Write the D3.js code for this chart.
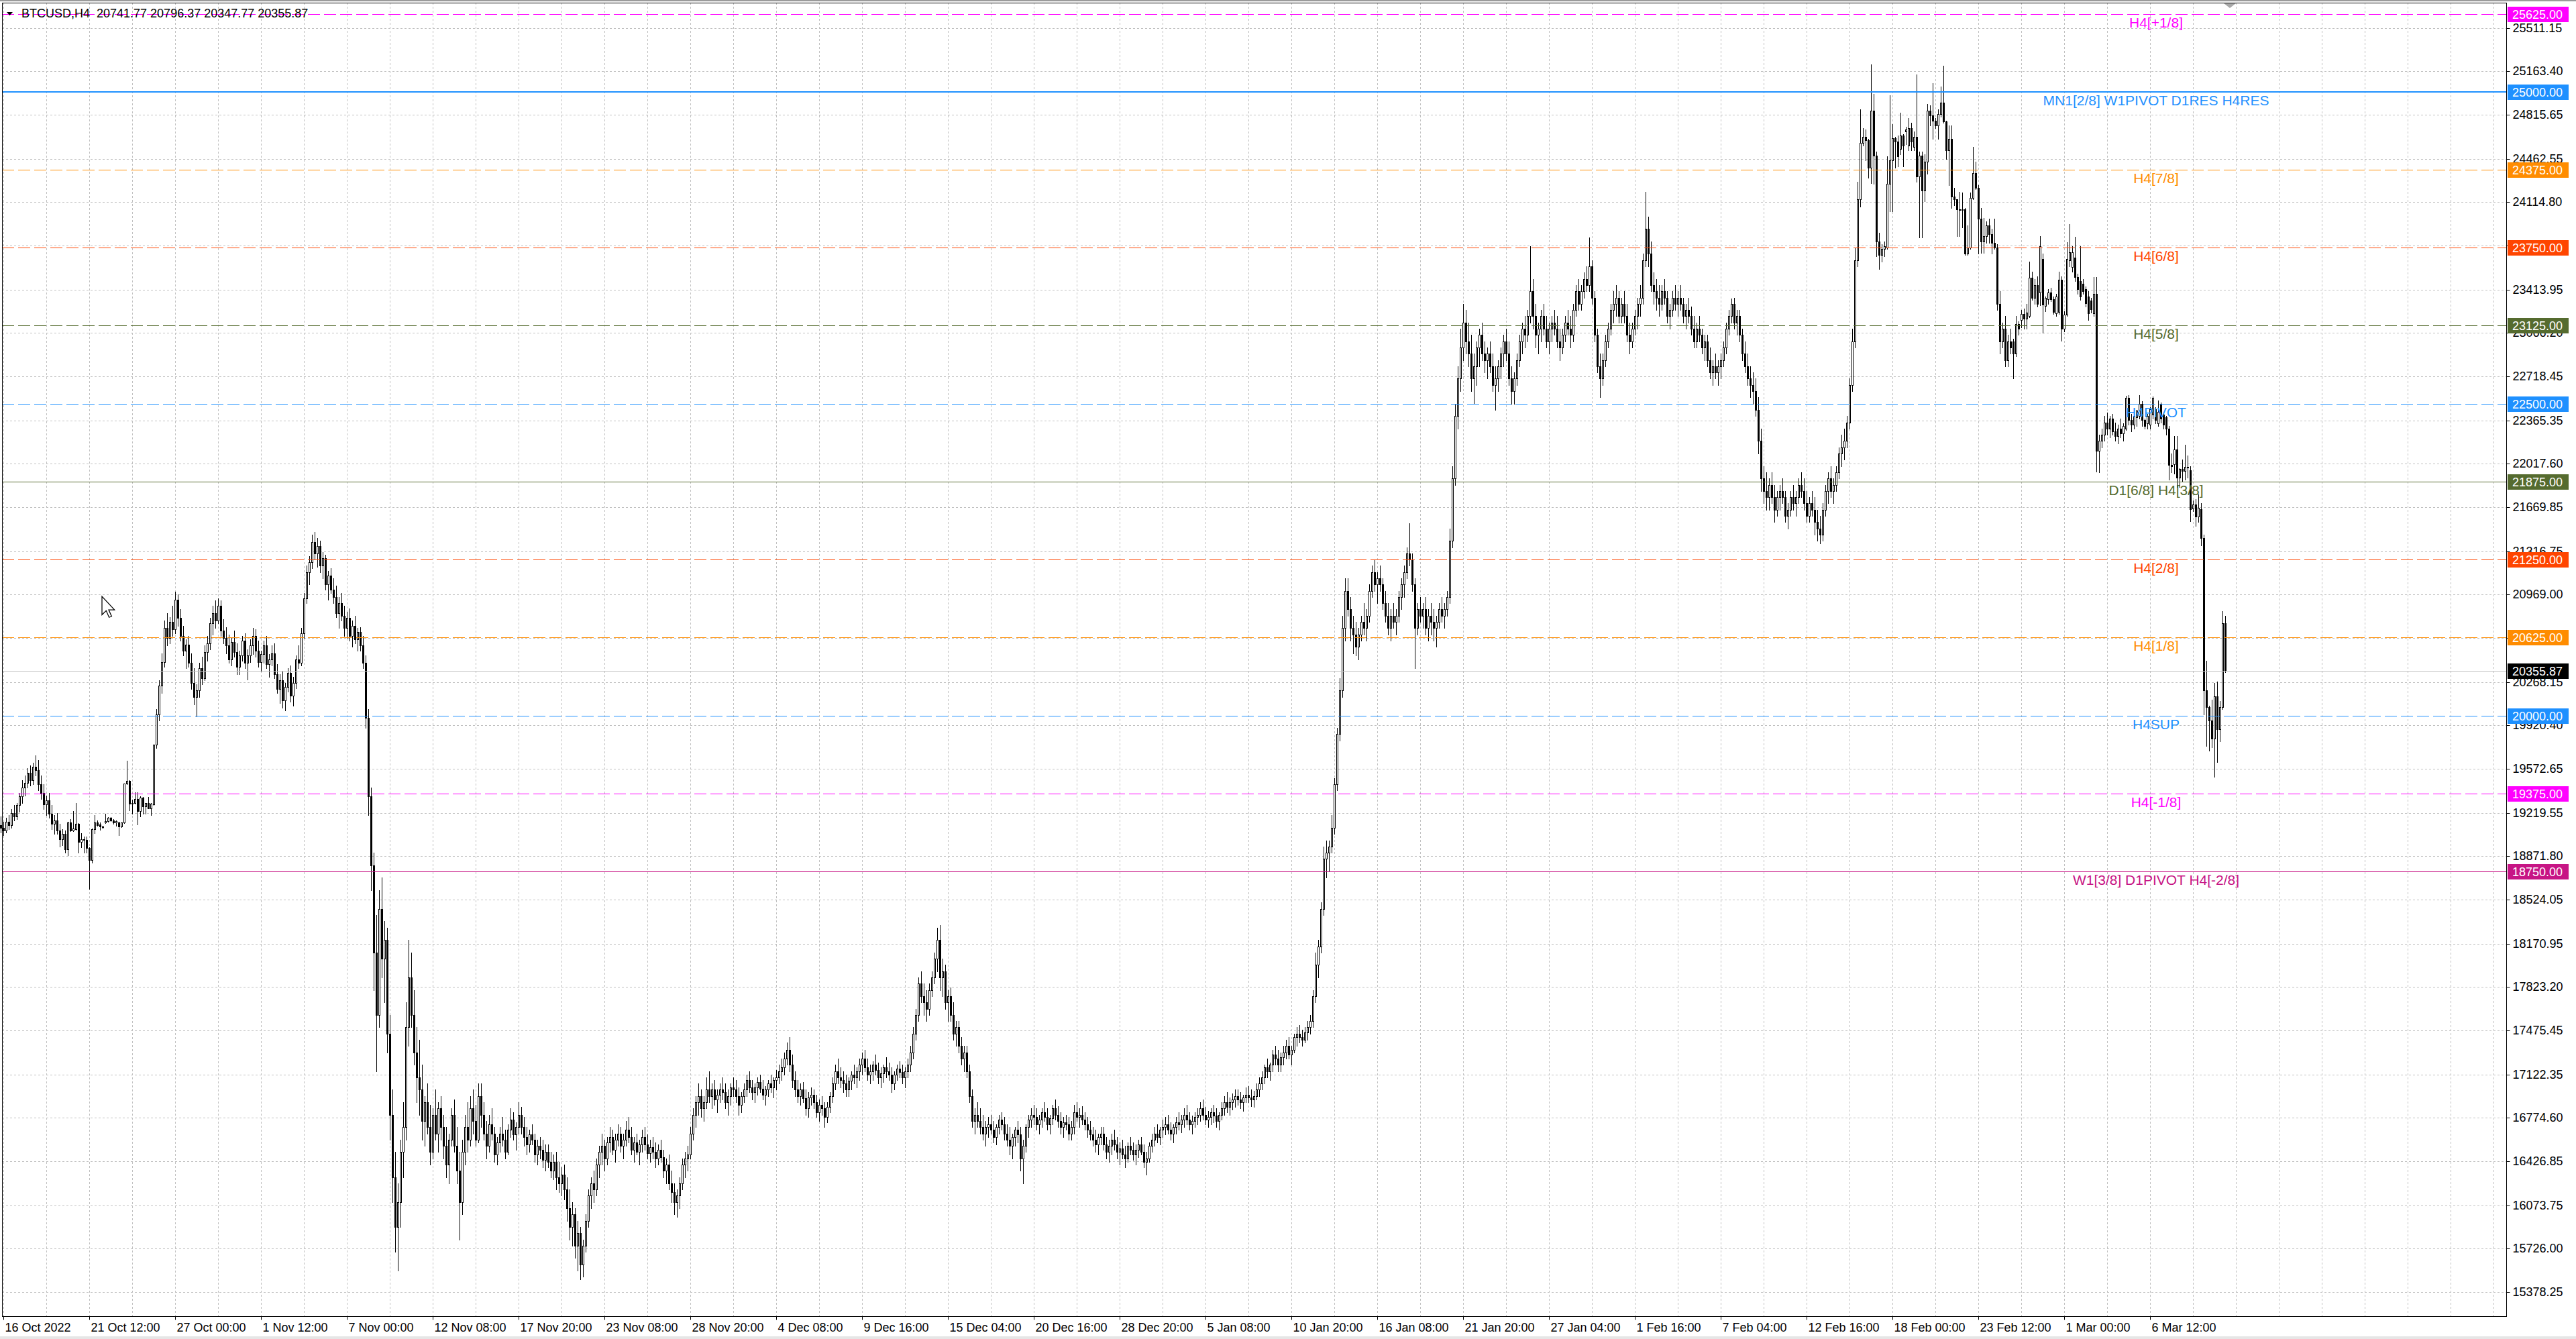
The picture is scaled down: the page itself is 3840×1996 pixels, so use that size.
<!DOCTYPE html>
<html><head><meta charset="utf-8">
<script src="https://cdn.jsdelivr.net/npm/d3@7"></script>
<style>html,body{margin:0;padding:0;background:#fff;overflow:hidden}svg{display:block}</style>
</head><body>
<svg id="chart" width="3840" height="1996"></svg>
<script>
// ===== DATA =====
const symbolTitle = "BTCUSD,H4";
// H4 candles [open, high, low, close]
const barsOct = [
[19120,19190,19060,19100],[19100,19150,19040,19080],[19080,19180,19060,19150],[19150,19200,19090,19120],[19120,19250,19100,19220],
[19220,19280,19160,19190],[19190,19300,19170,19280],[19280,19380,19230,19350],[19350,19480,19300,19420],[19420,19520,19360,19460],
[19460,19580,19420,19540],[19540,19600,19440,19480],[19480,19620,19450,19590],[19590,19680,19520,19560],[19560,19640,19400,19450],
[19450,19520,19330,19380],[19380,19450,19250,19290],[19290,19360,19200,19320],[19320,19380,19180,19210],[19210,19280,19090,19130],
[19130,19200,19050,19160],[19160,19220,19050,19080],[19080,19130,18950,19010],[19010,19090,18960,19050],[19050,19080,18900,18930],
[18925,19150,18880,19140],[19140,19167,19070,19077],[19077,19233,19072,19095],[19090,19297,19085,19131],[19131,19135,18898,18984],
[18984,19054,18943,19009],[19009,19027,18898,19005],[19005,19032,18898,18937],[18937,18945,18611,18844],[18844,19095,18822,19090],
[19090,19202,19054,19140],[19143,19158,19113,19122],[19125,19140,19082,19108],[19109,19116,19095,19104],[19140,19211,19138,19152],
[19152,19185,19150,19179],[19181,19188,19155,19158],[19161,19172,19130,19140],[19143,19158,19113,19152],[19143,19150,19038,19108],
[19109,19143,19106,19143],[19143,19453,19138,19453],[19453,19638,19450,19477],[19477,19480,19238,19292],[19292,19328,19215,19301],
[19297,19382,19292,19333],[19333,19382,19125,19233],[19233,19351,19190,19340],[19340,19345,19215,19271],[19271,19301,19215,19297],
[19297,19346,19256,19256],[19256,19301,19199,19292],[19289,19767,19283,19767],
[19767,20050,19740,20010],[20010,20280,19960,20240],[20240,20500,20180,20430],[20430,20760,20390,20700],[20700,20820,20560,20620],
[20620,20790,20580,20750],[20750,20880,20640,20690],[20690,20990,20660,20930],[20930,20970,20720,20780],[20780,20850,20600,20640],
[20640,20720,20480,20520],[20520,20610,20380,20570],[20570,20640,20390,20420],[20420,20500,20210,20260],[20260,20380,20090,20150],
[20150,20250,19990,20200],[20200,20420,20150,20380],[20380,20470,20250,20300],[20300,20560,20280,20510],[20510,20640,20440,20580],
[20580,20780,20530,20740],[20740,20880,20650,20820],[20820,20920,20700,20760],[20760,20940,20740,20880],[20880,20920,20640,20680],
[20680,20770,20580,20620],[20620,20710,20500,20560],[20560,20650,20420,20450],[20450,20620,20400,20590],[20590,20680,20470,20510],
[20510,20580,20330,20390],[20390,20520,20330,20480],[20480,20640,20440,20600],[20600,20660,20380,20420],[20420,20530,20290,20480],
[20480,20610,20430,20560]
];
const barsNov = [
[20560,20700,20490,20640],[20640,20690,20470,20520],[20520,20600,20390,20430],[20430,20520,20350,20490],[20490,20600,20420,20560],
[20560,20640,20380,20410],[20410,20490,20310,20450],[20450,20560,20400,20500],[20500,20580,20300,20330],[20330,20410,20180,20210],
[20210,20330,20100,20280],[20280,20350,20060,20120],[20120,20260,20040,20230],[20230,20380,20190,20340],[20340,20400,20110,20160],
[20160,20310,20080,20260],[20260,20480,20220,20450],[20450,20560,20380,20420],[20420,20700,20400,20660],[20660,20980,20620,20940],
[20940,21200,20900,21150],[21150,21280,21050,21230],[21230,21450,21180,21390],[21390,21470,21250,21300],[21300,21420,21190,21360],
[21360,21400,21150,21200],[21200,21310,21100,21260],[21260,21290,21010,21050],[21050,21160,20930,21120],[21120,21180,20980,21010],
[21010,21100,20900,20950],[20950,21040,20790,20820],[20820,20950,20700,20900],[20900,20980,20760,20800],[20800,20880,20640,20700],
[20700,20830,20620,20780],[20780,20860,20600,20640],[20640,20760,20550,20720],[20720,20800,20580,20610],[20610,20700,20520,20670],
[20670,20710,20520,20560],[20560,20640,20380,20420],[20420,20480,19900,19980],[19980,20050,19200,19350],[19350,19420,18600,18800],
[18800,18900,17800,18100],[18100,18400,17150,17600],[17600,18600,17500,18450],[18450,18700,17900,18050],[18050,18350,17700,18200],
[18200,18300,17300,17450],[17450,17600,16600,16800],[16800,17000,16100,16300],[16300,16500,15700,15900],[15900,16250,15550,16100],
[16100,16600,15900,16500],[16500,16900,16300,16700],[16700,17700,16600,17500],[17500,18200,17350,17900],[17900,18100,17500,17600],
[17600,17800,17200,17300],[17300,17500,16900,17100],[17100,17400,16800,17000],[17000,17200,16600,16750],[16750,16950,16550,16900],
[16900,17050,16650,16700],[16700,16880,16400,16500],[16500,16850,16450,16800],[16800,17000,16600,16650],[16650,16900,16500,16850],
[16850,16950,16600,16700],[16700,16800,16450,16550],[16550,16700,16300,16400],[16400,16650,16250,16600],[16600,16850,16550,16800],
[16800,16920,16500,16550],[16550,16700,16250,16350],[16350,16500,15800,16100],[16100,16600,16000,16500],[16500,16800,16400,16700],
[16700,16900,16500,16600],[16600,16950,16550,16850],[16850,17000,16650,16750],[16750,16880,16550,16600],[16600,17050,16580,16950],
[16950,17050,16700,16800],
[16800,16900,16600,16650],[16650,16750,16450,16550],[16550,16800,16500,16720],[16720,16850,16600,16650],[16650,16700,16420,16480],
[16480,16620,16400,16580],[16580,16700,16500,16650],[16650,16780,16550,16600],[16600,16680,16450,16500],[16500,16720,16480,16680],
[16680,16850,16620,16760],[16760,16820,16600,16640],[16640,16740,16520,16700],[16700,16900,16650,16800],[16800,16860,16650,16700],
[16700,16780,16550,16620],[16620,16700,16480,16560],[16560,16680,16500,16640],[16640,16720,16560,16600],[16600,16650,16420,16480],
[16480,16600,16400,16550],[16550,16620,16450,16520],[16520,16600,16380,16440],[16440,16560,16350,16500],[16500,16560,16380,16420],
[16420,16500,16300,16350],[16350,16480,16280,16420],[16420,16500,16200,16300],[16300,16420,16180,16250],[16250,16380,16150,16320],
[16320,16400,16120,16200],
[16200,16300,15950,16050],[16050,16200,15800,15900],[15900,16100,15750,16000],[16000,16050,15650,15750],[15750,15950,15550,15850],
[15850,15900,15480,15600],[15600,15800,15500,15750],[15750,16000,15700,15950],[15950,16200,15900,16150],[16150,16300,16050,16250],
[16250,16350,16100,16200],[16200,16450,16150,16400],[16400,16550,16300,16500],[16500,16650,16400,16550],[16550,16600,16350,16450],
[16450,16620,16400,16580],[16580,16700,16500,16620],[16620,16680,16480,16520],[16520,16650,16420,16600],[16600,16720,16550,16650],
[16650,16700,16500,16550],[16550,16650,16450,16600],[16600,16750,16550,16680],[16680,16780,16580,16620],[16620,16700,16480,16520],
[16520,16620,16420,16580],[16580,16650,16480,16500],[16500,16600,16400,16560],[16560,16680,16500,16620],[16620,16700,16520,16560],
[16560,16640,16450,16490],[16490,16600,16420,16540],[16540,16620,16450,16500],[16500,16580,16380,16450],[16450,16560,16400,16520],
[16520,16600,16420,16460],[16460,16520,16300,16350],[16350,16450,16250,16400],[16400,16480,16200,16250],[16250,16350,16100,16180],
[16180,16250,16000,16100],[16100,16200,15980,16150],[16150,16300,16050,16250],[16250,16450,16200,16400],[16400,16500,16300,16450],
[16450,16550,16350,16480],
[16480,16700,16450,16650],[16650,16850,16600,16800],[16800,16950,16700,16900],[16900,17050,16800,16950],[16950,17000,16780,16850],
[16850,16950,16750,16900],[16900,17100,16850,17000],[17000,17150,16900,16950],[16950,17050,16850,17000],[17000,17080,16880,16920],
[16920,17000,16820,16960],[16960,17050,16900,17000],[17000,17100,16920,16980]
];
const barsDec = [
[16980,17050,16850,16900],[16900,17000,16800,16950],[16950,17050,16880,17020],[17020,17100,16950,17000],[17000,17080,16900,16950],
[16950,17020,16800,16880],[16880,16980,16820,16950],[16950,17050,16900,17000],[17000,17120,16950,17080],[17080,17150,16980,17020],
[17020,17080,16920,16980],[16980,17050,16900,17020],[17020,17100,16960,17060],[17060,17120,16980,17010],[17010,17080,16920,16960],
[16960,17030,16880,17000],[17000,17080,16950,17050],[17050,17120,16980,17020],[17020,17100,16940,17080],[17080,17160,17000,17100],
[17100,17200,17050,17150],[17150,17250,17080,17180],[17180,17300,17120,17250],[17250,17380,17200,17320],[17320,17420,17150,17200],
[17200,17280,17020,17080],[17080,17150,16950,17000],[17000,17080,16900,16950],[16950,17050,16880,17000],[17000,17060,16900,16930],
[16930,17000,16800,16850],[16850,16980,16780,16940],[16940,17020,16880,16960],[16960,17000,16850,16900],[16900,16960,16780,16820],
[16820,16920,16750,16880],[16880,16950,16800,16850],[16850,16900,16700,16780],[16780,16900,16740,16860],[16860,16980,16820,16950],
[16950,17100,16900,17050],[17050,17200,17000,17150],[17150,17250,17050,17100],[17100,17180,17020,17080],[17080,17150,16980,17050],
[17050,17120,16950,17000],[17000,17100,16950,17070],[17070,17150,17000,17120],[17120,17200,17050,17100],
[17100,17180,17020,17150],[17150,17250,17080,17200],[17200,17300,17120,17250],[17250,17320,17150,17180],[17180,17250,17080,17120],
[17120,17200,17050,17150],[17150,17230,17080,17200],[17200,17280,17120,17160],[17160,17220,17050,17100],[17100,17180,17020,17130],
[17130,17200,17060,17180],[17180,17260,17100,17150],[17150,17220,17080,17120],[17120,17180,16980,17050],[17050,17150,17000,17120],
[17120,17200,17080,17170],[17170,17230,17100,17140],[17140,17200,17050,17100],[17100,17180,17020,17150],[17150,17250,17100,17200],
[17200,17350,17150,17300],[17300,17500,17250,17450],[17450,17650,17400,17600],[17600,17900,17550,17850],[17850,17950,17700,17750],
[17750,17850,17600,17700],[17700,17800,17550,17650],[17650,17850,17600,17800],[17800,17950,17750,17900],[17900,18100,17850,18050],
[18050,18300,17950,18200],[18200,18320,17800,17900],[17900,18050,17750,17950],[17950,18000,17650,17700],[17700,17800,17550,17750],
[17750,17820,17550,17600],[17600,17700,17400,17450],[17450,17550,17350,17500],[17500,17550,17300,17350],[17350,17420,17200,17250],
[17250,17350,17150,17300],[17300,17350,17100,17150],[17150,17200,16900,16950],[16950,17000,16700,16750],[16750,16850,16650,16800],
[16800,16900,16700,16750],
[16750,16850,16650,16700],[16700,16800,16600,16650],[16650,16750,16550,16700],[16700,16780,16620,16720],[16720,16800,16650,16680],
[16680,16750,16580,16620],[16620,16720,16560,16700],[16700,16800,16650,16760],[16760,16820,16680,16720],[16720,16780,16600,16650],
[16650,16720,16550,16600],[16600,16700,16480,16550],[16550,16650,16450,16620],[16620,16700,16550,16680],[16680,16750,16580,16640],
[16640,16700,16350,16450],[16450,16600,16250,16550],[16550,16720,16500,16700],[16700,16800,16620,16760],[16760,16850,16700,16800],
[16800,16880,16720,16780],[16780,16850,16680,16720],[16720,16800,16650,16760],[16760,16850,16700,16820],[16820,16900,16750,16780],
[16780,16850,16680,16720],[16720,16800,16650,16770],[16770,16880,16720,16850],[16850,16920,16760,16800],[16800,16870,16700,16750],
[16750,16820,16650,16700],[16700,16780,16620,16740],[16740,16800,16680,16720],[16720,16780,16600,16650],[16650,16750,16600,16700],
[16700,16880,16650,16820],[16820,16900,16750,16780],[16780,16850,16700,16800],[16800,16870,16720,16760],[16760,16820,16680,16720],
[16720,16780,16620,16680],[16680,16750,16600,16640],[16640,16700,16550,16600],[16600,16680,16500,16560],[16560,16650,16480,16620],
[16620,16700,16560,16650],
[16650,16700,16520,16560],[16560,16620,16450,16500],[16500,16600,16420,16550],[16550,16650,16480,16600],[16600,16680,16520,16560],
[16560,16620,16450,16500],[16500,16580,16400,16530],[16530,16600,16450,16480],[16480,16550,16380,16450],[16450,16580,16420,16550],
[16550,16620,16480,16520],[16520,16580,16440,16480],[16480,16560,16400,16520],[16520,16600,16460,16560],[16560,16620,16480,16500],
[16500,16560,16380,16420],[16420,16500,16320,16450],[16450,16580,16420,16550]
];
const barsJan = [
[16550,16650,16500,16600],[16600,16700,16550,16650],[16650,16720,16580,16620],[16620,16700,16560,16680],[16680,16760,16620,16700],
[16700,16780,16640,16720],[16720,16800,16650,16680],[16680,16740,16600,16650],[16650,16720,16580,16700],[16700,16780,16650,16740],
[16740,16820,16680,16720],[16720,16800,16660,16760],[16760,16850,16700,16800],[16800,16880,16720,16760],[16760,16820,16680,16720],
[16720,16790,16650,16750],[16750,16820,16700,16780],[16780,16850,16720,16800],[16800,16900,16750,16850],[16850,16920,16760,16800],
[16800,16860,16720,16760],[16760,16830,16700,16780],[16780,16850,16720,16820],[16820,16880,16740,16790],[16790,16850,16700,16750],
[16750,16820,16680,16800],[16800,16900,16760,16850],[16850,16950,16800,16900],[16900,16980,16820,16860],[16860,16940,16800,16900],
[16900,16970,16840,16920],[16920,17000,16860,16950],[16950,17000,16880,16920],[16920,16980,16850,16900],[16900,16960,16830,16940],
[16940,17020,16900,16960],[16960,17030,16900,16940],[16940,17000,16870,16920],[16920,16990,16860,16950],[16950,17050,16920,17000],
[17000,17100,16950,17050],[17050,17150,17000,17100],
[17100,17200,17050,17180],[17180,17250,17100,17150],[17150,17220,17080,17200],[17200,17320,17150,17280],[17280,17350,17200,17250],
[17250,17320,17150,17200],[17200,17300,17150,17260],[17260,17350,17200,17300],[17300,17400,17250,17350],[17350,17420,17250,17280],
[17280,17350,17200,17320],[17320,17450,17300,17420],[17420,17500,17350,17450],[17450,17520,17380,17420],[17420,17480,17350,17400],
[17400,17500,17380,17460],[17460,17550,17400,17500],[17500,17600,17450,17550],
[17550,17800,17500,17750],[17750,18100,17700,18000],[18000,18200,17900,18150],[18150,18500,18100,18450],[18450,18950,18400,18850],
[18850,19000,18700,18900],[18900,19000,18750,18950],[18950,19200,18900,19100],[19100,19500,19050,19450],[19450,19900,19400,19850],
[19850,20300,19800,20200],[20200,20800,20150,20700],[20700,21100,20600,21000],
[21000,21100,20800,20850],[20850,20950,20600,20700],[20700,20800,20500,20650],[20650,20750,20480,20550],[20550,20700,20450,20650],
[20650,20800,20600,20750],[20750,20900,20650,20700],[20700,20850,20600,20800],[20800,21050,20750,21000],[21000,21200,20950,21150],
[21150,21250,21000,21050],[21050,21150,20900,21100],[21100,21200,21000,21050],[21050,21100,20850,20900],[20900,21000,20750,20800],
[20800,20900,20650,20700],[20700,20850,20600,20800],[20800,20900,20700,20750],[20750,20850,20650,20800],[20800,21000,20750,20950],
[20950,21100,20850,21050],[21050,21200,20950,21150],[21150,21350,21100,21300],[21300,21540,21200,21250],[21250,21300,21000,21050],
[21050,21100,20380,20700],[20700,20900,20650,20850],[20850,20950,20750,20800],[20800,20900,20700,20850],[20850,20950,20650,20700],
[20700,20850,20600,20800],[20800,20900,20650,20750],[20750,20850,20600,20700],[20700,20800,20550,20750],[20750,20900,20700,20850],
[20850,20950,20750,20800],[20800,20900,20700,20850],[20850,21000,20800,20950],
[20950,21500,20900,21400],[21400,22000,21350,21900],[21900,22500,21850,22400],[22400,22800,22300,22700],[22700,23100,22600,22950],
[22950,23300,22850,23150],[23150,23250,22900,23000],[23000,23150,22800,22900],[22900,23050,22600,22700],[22700,22900,22500,22800],
[22800,23000,22650,22950],[22950,23100,22800,23050],[23050,23150,22850,22900],[22900,23000,22750,22850],[22850,22950,22700,22900],
[22900,23000,22750,22800],[22800,22900,22600,22650],[22650,22800,22450,22700],[22700,22850,22600,22800],[22800,22950,22700,22900],
[22900,23050,22800,23000],[23000,23100,22850,22900],[22900,23000,22650,22700],[22700,22800,22500,22600],[22600,22750,22500,22700],
[22700,22900,22650,22850],[22850,23050,22800,23000],[23000,23150,22900,23100],[23100,23200,22950,23050],[23050,23250,23000,23200],
[23200,23760,23150,23400],[23400,23500,23100,23200],[23200,23300,22950,23050],[23050,23150,22900,23100],[23100,23250,23000,23200],
[23200,23300,23050,23100],[23100,23200,22950,23000],[23000,23150,22900,23100],[23100,23200,23000,23150],[23150,23250,23050,23100],
[23100,23200,22950,23000],[23000,23100,22850,22950],[22950,23100,22900,23050],[23050,23200,23000,23150],[23150,23250,23050,23100],
[23100,23200,22950,23050],
[23050,23300,23000,23250],[23250,23450,23200,23400],[23400,23500,23250,23300],[23300,23450,23250,23400],[23400,23550,23350,23500],
[23500,23600,23400,23450],[23450,23830,23400,23600],[23600,23650,23300,23350],[23350,23400,23000,23050],[23050,23100,22750,22800],
[22800,22900,22550,22700],[22700,22900,22650,22850],[22850,23050,22800,23000],[23000,23150,22950,23100],[23100,23300,23050,23250],
[23250,23400,23150,23300],[23300,23450,23200,23350],[23350,23400,23150,23200],[23200,23350,23150,23300]
];
const barsFeb = [
[23300,23400,23150,23200],[23200,23300,23000,23050],[23050,23150,22900,23000],[23000,23150,22950,23100],[23100,23250,23050,23200],
[23200,23350,23100,23300],[23300,23450,23200,23350],[23350,23700,23300,23650],[23650,24200,23600,23900],[23900,24000,23600,23700],
[23700,23800,23400,23450],[23450,23550,23300,23400],[23400,23500,23250,23350],[23350,23450,23200,23300],[23300,23450,23250,23400],
[23400,23500,23300,23350],[23350,23400,23150,23200],[23200,23300,23100,23250],[23250,23400,23200,23350],[23350,23450,23250,23300],
[23300,23400,23200,23350],[23350,23450,23250,23300],[23300,23350,23150,23200],[23200,23300,23100,23250],[23250,23350,23150,23200],
[23200,23280,23050,23100],[23100,23200,22950,23000],[23000,23150,22950,23100],[23100,23200,23000,23050],[23050,23100,22900,22950],
[22950,23050,22850,23000],[23000,23050,22800,22850],[22850,22950,22700,22750],[22750,22850,22650,22800],[22800,22900,22700,22750],
[22750,22850,22650,22800],[22800,22900,22700,22850],[22850,23000,22800,22950],[22950,23150,22900,23100],[23100,23250,23050,23200],
[23200,23340,23150,23300],[23300,23350,23100,23150],[23150,23250,23050,23200],[23200,23250,23000,23050],[23050,23100,22850,22900],
[22900,23000,22750,22800],[22800,22900,22650,22700],[22700,22800,22550,22650],[22650,22750,22500,22600],[22600,22700,22400,22450],
[22450,22550,22100,22200],[22200,22300,21800,21900],[21900,22000,21700,21800],[21800,21950,21650,21750],[21750,21900,21650,21850],
[21850,21950,21700,21750],[21750,21850,21550,21650],[21650,21800,21600,21750],[21750,21850,21650,21800],[21800,21900,21700,21750],
[21750,21800,21550,21600],[21600,21700,21500,21650],[21650,21800,21600,21750],[21750,21850,21650,21700],[21700,21800,21600,21750],
[21750,21900,21700,21850],[21850,21950,21750,21800],[21800,21900,21650,21700],[21700,21800,21550,21600],[21600,21750,21550,21700],
[21700,21800,21600,21650],[21650,21750,21450,21550],[21550,21650,21400,21500],[21500,21600,21380,21450],[21450,21700,21400,21650],
[21650,21850,21600,21800],[21800,21950,21700,21900],[21900,22000,21750,21800],[21800,21900,21700,21850],[21850,22000,21800,21950],
[21950,22150,21900,22100],[22100,22250,22000,22150],[22150,22300,22050,22200],
[22200,22400,22150,22350],[22350,22700,22300,22650],[22650,23100,22600,23000],[23000,23750,22950,23650],[23650,24280,23600,24140],
[24140,24860,24080,24590],[24590,24710,24570,24640],[24640,24700,24450,24610],[24610,24620,24310,24390],[24390,25220,24270,24850],
[24850,24980,24260,24490],[24490,24520,23680,23800],[23800,23870,23580,23690],[23690,23780,23640,23740],[23740,23800,23680,23760],
[23750,24480,23740,24260],[24260,24970,24040,24450],[24450,24740,24040,24630],[24630,24640,24390,24600],[24600,24650,24400,24480],
[24540,24830,24500,24650],[24650,24660,24400,24570],[24680,24720,24580,24700],[24570,24790,24530,24710],[24710,24750,24530,24600],
[24560,24680,24530,24640],[24640,25140,24280,24320],[24320,24520,23830,24490],[24490,24520,23830,24210],[24210,24500,24120,24440],
[24440,24900,24340,24850],[24850,24890,24730,24810],[24810,25070,24620,24770],[24770,24790,24710,24730],[24730,24860,24620,24820],
[24820,25040,24800,24910],[24910,25210,24750,24760],[24760,24770,24460,24530],[24530,24730,24250,24620],[24620,24730,24070,24160],
[24160,24230,24090,24140],[24140,24140,23840,24060],[24060,24200,23840,24050],[24050,24190,23910,24060],[24060,24070,23690,23700],
[23700,23930,23690,23750],[23750,24190,23740,24150],[24150,24560,24140,24350],[24350,24440,24220,24230],[24230,24250,23700,23980],
[23980,24070,23710,23800],[23800,23990,23710,23840],[23840,23960,23790,23930],[23930,23980,23790,23860],[23860,23900,23700,23790],
[23790,23980,23740,23750],[23750,23780,23250,23300],[23300,23400,22900,23000],[23000,23150,22950,23100],[23100,23200,22800,22850],
[22850,23050,22800,23000],[23000,23100,22900,22950],
[23000,23020,22700,22900],[22900,23200,22880,23140],[23140,23160,23050,23100],[23170,23250,23110,23220],[23220,23260,23100,23180],
[23180,23300,23100,23230],[23200,23640,23190,23510],[23510,23560,23330,23350],[23350,23500,23300,23450],[23450,23520,23280,23300],
[23393,23840,23290,23761],[23661,23700,23069,23292],[23281,23360,23240,23348],[23337,23420,23300,23393],[23393,23430,23320,23337],
[23337,23360,23220,23237],[23226,23380,23200,23359],[23237,23560,23220,23493],[23493,23520,23002,23103]
];
const barsMar = [
[23103,23240,23080,23214],[23214,23794,23200,23661],[23649,23940,23600,23716],[23594,23760,23560,23716],[23672,23839,23480,23516],
[23516,23540,23380,23415],[23482,23761,23330,23359],[23460,23500,23380,23404],[23415,23440,23280,23304],[23359,23400,23170,23226],
[23326,23350,23230,23259],[23226,23516,23200,23382],[23382,23516,21955,22122],
[22122,22250,21950,22200],[22200,22300,22150,22250],[22250,22400,22200,22350],[22350,22430,22250,22300],[22300,22400,22230,22380],
[22380,22420,22250,22280],[22280,22350,22200,22240],[22240,22330,22180,22300],[22300,22380,22230,22260],[22260,22340,22200,22320],
[22300,22560,22290,22545],[22545,22567,22330,22367],[22367,22420,22280,22330],[22330,22420,22300,22400],[22389,22450,22320,22445],
[22400,22567,22380,22500],[22500,22520,22320,22367],[22367,22380,22300,22322],[22344,22420,22300,22400],[22333,22470,22300,22456],
[22411,22556,22380,22545],[22456,22470,22340,22367],[22344,22523,22320,22434],[22500,22511,22350,22378],[22411,22420,22300,22333],
[22389,22400,22250,22300],
[22300,22320,21890,22010],[22010,22100,21950,22000],[22012,22240,21940,22132],[22132,22240,21832,21904],[21904,21980,21830,21976],
[21976,22050,21880,21960],[21960,22170,21890,21990],[21985,22085,21905,21990],[21964,22000,21556,21652],[21659,21724,21640,21693],
[21693,21736,21520,21592],[21592,21772,21550,21664],[21652,21700,21364,21424],[21424,21450,20008,20200],[20200,20440,19756,20068],
[20068,20080,19720,19960],[19960,20128,19744,19816],[19816,20260,19509,20152],[20152,20272,19628,19888],[19888,20116,19792,20068],
[20068,20836,20050,20740],[20741.77,20796.37,20347.77,20355.87]
];
// right price-axis tick values
const priceTicks = [25511.15,25163.40,24815.65,24462.55,24114.80,23767.05,23413.95,23066.20,22718.45,22365.35,22017.60,21669.85,
21316.75,20969.00,20621.25,20268.15,19920.40,19572.65,19219.55,18871.80,18524.05,18170.95,17823.20,17475.45,17122.35,16774.60,
16426.85,16073.75,15726.00,15378.25];
// time axis labels and the bar each belongs to
const timeLabels = ["16 Oct 2022","21 Oct 12:00","27 Oct 00:00","1 Nov 12:00","7 Nov 00:00","12 Nov 08:00","17 Nov 20:00",
"23 Nov 08:00","28 Nov 20:00","4 Dec 08:00","9 Dec 16:00","15 Dec 04:00","20 Dec 16:00","28 Dec 20:00","5 Jan 08:00",
"10 Jan 20:00","16 Jan 08:00","21 Jan 20:00","27 Jan 04:00","1 Feb 16:00","7 Feb 04:00","12 Feb 16:00","18 Feb 00:00",
"23 Feb 12:00","1 Mar 00:00","6 Mar 12:00"];
const timeLabelBars = [1,33,65,97,129,161,193,225,257,289,321,353,385,417,449,481,513,545,577,609,641,673,705,737,769,801];
// Murrey / pivot levels
const levelPrices = [25625,25000,24375,23750,23125,22500,21875,21250,20625,20000,19375,18750];
const levelNames = ["H4[+1/8]","MN1[2/8] W1PIVOT D1RES H4RES","H4[7/8]","H4[6/8]","H4[5/8]","H4PIVOT","D1[6/8] H4[3/8]",
"H4[2/8]","H4[1/8]","H4SUP","H4[-1/8]","W1[3/8] D1PIVOT H4[-2/8]"];

// ===== RENDER =====
const bars = [].concat(barsOct, barsNov, barsDec, barsJan, barsFeb, barsMar);
const last = bars[bars.length - 1];
const FONT = "'Liberation Sans', Arial, sans-serif";
const P = {left: 3, right: 3736, top: 4, bottom: 1962};
const levelStyle = [
  {c:"#FF00FF", dash:"18,6", w:1},{c:"#1E90FF", dash:null, w:2},{c:"#FF8C00", dash:"18,6", w:1},{c:"#FF4500", dash:"18,6", w:1},
  {c:"#556B2F", dash:"18,6", w:1},{c:"#1E90FF", dash:"18,6", w:1},{c:"#556B2F", dash:null, w:1},{c:"#FF4500", dash:"18,6", w:1},
  {c:"#FF8C00", dash:"18,6", w:1},{c:"#1E90FF", dash:"18,6", w:1},{c:"#FF00FF", dash:"18,6", w:1},{c:"#C71585", dash:null, w:1}];

const x = d3.scaleLinear().domain([0, 1]).range([1, 5]);
const y = d3.scaleLinear().domain([15378.25, 25511.15]).range([1926, 41.7]);
const ry = v => Math.round(y(v));

const svg = d3.select("#chart");
svg.append("rect").attr("width", 3840).attr("height", 1996).attr("fill", "#fff");
svg.append("rect").attr("x", 0).attr("y", 0).attr("width", 3840).attr("height", 2).attr("fill", "#9a9a9a");
svg.append("rect").attr("x", 0).attr("y", 1992).attr("width", 3840).attr("height", 4).attr("fill", "#e6e6e6");

// grid
const grid = svg.append("g").attr("stroke", "#c0c0c0").attr("stroke-dasharray", "3,3").attr("shape-rendering", "crispEdges");
grid.selectAll("line.v").data(d3.range(1, 930, 16)).join("line")
  .attr("x1", d => x(d) + 0.5).attr("x2", d => x(d) + 0.5).attr("y1", P.top).attr("y2", P.bottom);
grid.selectAll("line.h").data(priceTicks).join("line")
  .attr("x1", P.left).attr("x2", P.right).attr("y1", d => ry(d) + 0.5).attr("y2", d => ry(d) + 0.5);

// candles
const gC = svg.append("g").attr("shape-rendering", "crispEdges");
const cg = gC.selectAll("g").data(bars).join("g");
cg.append("rect")
  .attr("x", (d, i) => x(i)).attr("width", 1)
  .attr("y", d => ry(d[1])).attr("height", d => Math.max(1, ry(d[2]) - ry(d[1]) + 1))
  .attr("fill", "#000");
cg.append("rect")
  .attr("x", (d, i) => x(i) - 1).attr("width", 3)
  .attr("y", d => ry(Math.max(d[0], d[3])))
  .attr("height", d => Math.max(1, ry(Math.min(d[0], d[3])) - ry(Math.max(d[0], d[3])) + 1))
  .attr("fill", "#000");
cg.filter(d => d[3] > d[0] && ry(d[0]) - ry(d[3]) >= 2).append("rect")
  .attr("x", (d, i) => x(bars.indexOf(d))).attr("width", 1)
  .attr("y", d => ry(d[3]) + 1).attr("height", d => ry(d[0]) - ry(d[3]) - 1)
  .attr("fill", "#fff");

// level lines
const gL = svg.append("g").attr("shape-rendering", "crispEdges");
gL.selectAll("line").data(levelPrices).join("line")
  .attr("x1", P.left).attr("x2", P.right)
  .attr("y1", (d, i) => ry(d) + (levelStyle[i].w === 2 ? 0 : 0.5))
  .attr("y2", (d, i) => ry(d) + (levelStyle[i].w === 2 ? 0 : 0.5))
  .attr("stroke", (d, i) => levelStyle[i].c).attr("stroke-width", (d, i) => levelStyle[i].w)
  .attr("stroke-dasharray", (d, i) => levelStyle[i].dash);
// current price line
gL.append("line").attr("x1", P.left).attr("x2", P.right)
  .attr("y1", ry(last[3]) + 0.5).attr("y2", ry(last[3]) + 0.5).attr("stroke", "#c0c0c0");

// level names
svg.append("g").selectAll("text").data(levelNames).join("text")
  .attr("x", 3214).attr("y", (d, i) => ry(levelPrices[i]) + 20)
  .attr("text-anchor", "middle").attr("font-family", FONT).attr("font-size", 21)
  .attr("fill", (d, i) => levelStyle[i].c).text(d => d);

// frame
svg.append("rect").attr("x", P.left + 0.5).attr("y", P.top + 0.5)
  .attr("width", P.right - P.left).attr("height", P.bottom - P.top)
  .attr("fill", "none").attr("stroke", "#000").attr("shape-rendering", "crispEdges");

// right axis
const yAxis = d3.axisRight(y).tickValues(priceTicks).tickFormat(d3.format(".2f")).tickSize(5).tickPadding(4);
const gy = svg.append("g").attr("transform", `translate(${P.right + 0.5},0)`).call(yAxis);
gy.select(".domain").remove();
gy.selectAll(".tick line").attr("stroke", "#000");
gy.selectAll("text").attr("font-family", FONT).attr("font-size", 18).attr("fill", "#000");
gy.selectAll(".tick").attr("transform", d => `translate(0,${ry(d) + 0.5})`);

// bottom axis
const xAxis = d3.axisBottom(x).tickValues(timeLabelBars).tickFormat((d, i) => timeLabels[i]).tickSize(5);
const gx = svg.append("g").attr("transform", `translate(0,${P.bottom + 0.5})`).call(xAxis);
gx.select(".domain").remove();
gx.selectAll(".tick").attr("transform", d => `translate(${x(d) + 0.5},0)`);
gx.selectAll(".tick line").attr("stroke", "#000");
gx.selectAll("text").attr("font-family", FONT).attr("font-size", 18).attr("fill", "#000")
  .attr("text-anchor", "start").attr("x", 2).attr("y", 22).attr("dy", 0);

// price boxes on the axis
const boxes = levelPrices.map((p, i) => ({p, c: levelStyle[i].c})).concat([{p: last[3], c: "#000"}]);
const gb = svg.append("g");
gb.selectAll("rect").data(boxes).join("rect")
  .attr("x", 3738).attr("width", 91).attr("y", d => ry(d.p) - 11).attr("height", 23).attr("fill", d => d.c);
gb.selectAll("text").data(boxes).join("text")
  .attr("x", 3745).attr("y", d => ry(d.p) + 1).attr("dy", "0.35em")
  .attr("font-family", FONT).attr("font-size", 18).attr("fill", "#fff").text(d => d3.format(".2f")(d.p));

// header
svg.append("path").attr("d", "M10,18 L19,18 L14.5,23 Z").attr("fill", "#000");
svg.append("text").attr("x", 32).attr("y", 26).attr("font-family", FONT).attr("font-size", 18)
  .style("white-space", "pre").attr("fill", "#000")
  .text(`${symbolTitle}  ${last.map(v => v.toFixed(2)).join(" ")}`);

// chart-shift marker and mouse cursor
svg.append("path").attr("d", "M3315,5 L3333,5 L3324,12 Z").attr("fill", "#a8a8a8");
svg.append("path").attr("transform", "translate(152,889) scale(1.25)")
  .attr("d", "M0,0 L0,22 L5,17 L8.5,25 L11.5,23.8 L8,16 L15,16 Z")
  .attr("fill", "#fff").attr("stroke", "#000").attr("stroke-width", 1);
</script>
</body></html>
